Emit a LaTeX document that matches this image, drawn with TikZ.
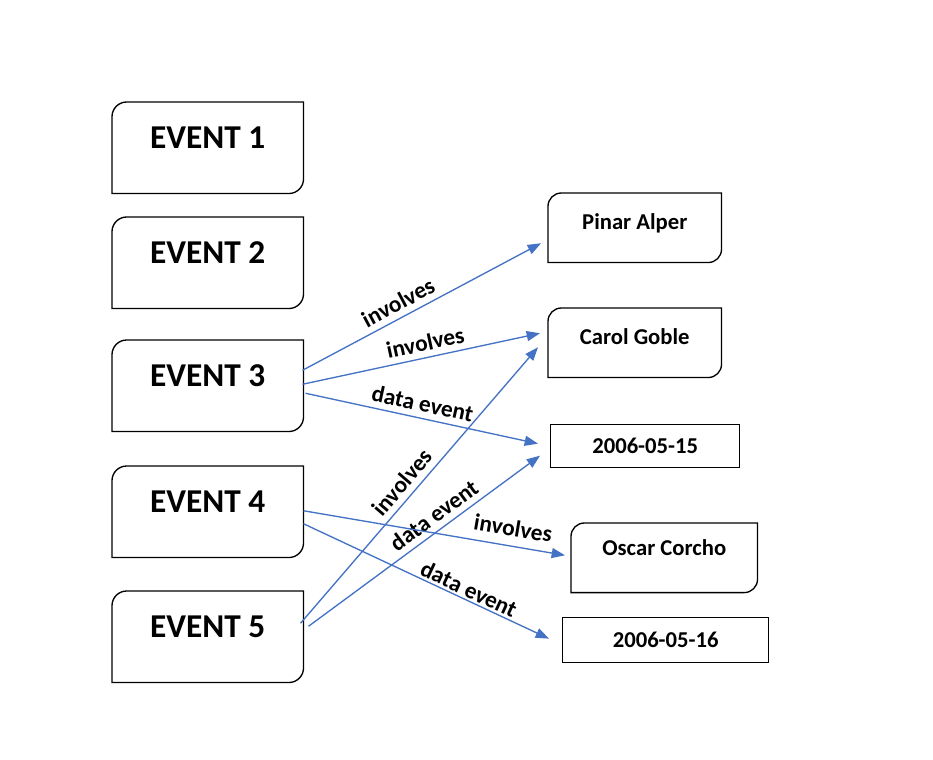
\documentclass[tikz,border=0pt]{standalone}
\usepackage{fontspec}
\setmainfont{Carlito}
\usetikzlibrary{calc,arrows.meta}
\definecolor{arrowblue}{HTML}{4472C4}
\begin{document}
\begin{tikzpicture}[x=0.75pt,y=-0.75pt,
  evbox/.style={anchor=north west, inner sep=0pt, minimum width=143.25pt,
    text height=34.5pt, text depth=33.75pt, font=\fontsize{25}{29}\selectfont\bfseries},
  pbox/.style={anchor=north west, inner sep=0pt, minimum width=129.75pt,
    text height=27pt, text depth=24.75pt, font=\fontsize{17}{20}\selectfont\bfseries},
  obox/.style={anchor=north west, inner sep=0pt, minimum width=139.5pt,
    text height=24.4pt, text depth=27.4pt, font=\fontsize{17}{20}\selectfont\bfseries},
  dbox/.style={anchor=north west, draw=black, line width=1pt, inner sep=0pt,
    font=\fontsize{17}{20}\selectfont\bfseries},
  boxline/.style={draw=black, line width=1pt},
  rel/.style={draw=arrowblue, line width=1pt, -{Triangle[length=10pt,width=7.5pt]}},
  lbl/.style={sloped, inner sep=1pt, font=\fontsize{17.5}{20}\selectfont\bfseries, text=black}]
\useasboundingbox[fill=white] (0,0) rectangle (933,760);

% event boxes
\node[evbox] (e1) at (112,102) {EVENT 1};
\node[evbox] (e2) at (112,217) {EVENT 2};
\node[evbox] (e3) at (112,340) {EVENT 3};
\node[evbox] (e4) at (112,466) {EVENT 4};
\node[evbox] (e5) at (112,591) {EVENT 5};

% target boxes
\node[pbox] (pa) at (548,193) {Pinar Alper};
\node[pbox] (cg) at (548,308) {Carol Goble};
\node[obox] (oc) at (571,523) {Oscar Corcho};
\node[dbox, minimum width=141.75pt, minimum height=32.25pt] (d1) at (550,424) {2006-05-15};
\node[dbox, minimum width=154.5pt, minimum height=33.75pt] (d2) at (562,617) {2006-05-16};

% outlines with rounded top-left and bottom-right corners
\foreach \n in {e1,e2,e3,e4,e5}{
  \draw[boxline] (\n.south west) -- ([yshift=-11pt]\n.north west)
    arc[start angle=180,end angle=90,radius=11pt] -- (\n.north east)
    -- ([yshift=11pt]\n.south east)
    arc[start angle=0,end angle=-90,radius=11pt] -- cycle;
}
\foreach \n in {pa,cg,oc}{
  \draw[boxline] (\n.south west) -- ([yshift=-10pt]\n.north west)
    arc[start angle=180,end angle=90,radius=10pt] -- (\n.north east)
    -- ([yshift=10pt]\n.south east)
    arc[start angle=0,end angle=-90,radius=10pt] -- cycle;
}

% connectors
\draw[rel] ($(e3.east)+(-1,-15.5)$) -- node[lbl, pos=0.43, above=3.5pt] {involves} ($(pa.west)+(-7,15.5)$);
\draw[rel] ($(e3.east)+(-1,-1.5)$) -- node[lbl, pos=0.53, above=3.5pt] {involves} ($(cg.west)+(-8,-9.5)$);
\draw[rel] ($(e3.east)+(2,7.5)$) -- node[lbl, pos=0.49, above=3.5pt] {data event} ($(d1.west)+(-12,-2.5)$);
\draw[rel] ($(e5.east)+(-3,-13.5)$) -- node[lbl, pos=0.475, above=3.5pt] {involves} ($(cg.west)+(-10,4.5)$);
\draw[rel] ($(e5.east)+(5,-10.5)$) -- node[lbl, pos=0.58, above=3.5pt] {data event} ($(d1.west)+(-10,9.5)$);
\draw[rel] ($(e4.east)+(0,-1)$) -- node[lbl, pos=0.79, above=6pt] {involves} ($(oc.west)+(-6,-2.5)$);
\draw[rel] ($(e4.east)+(0,12)$) -- node[lbl, pos=0.655, above=0.5pt] {data event} ($(d2.west)+(-13,-1.5)$);
\end{tikzpicture}
\end{document}
